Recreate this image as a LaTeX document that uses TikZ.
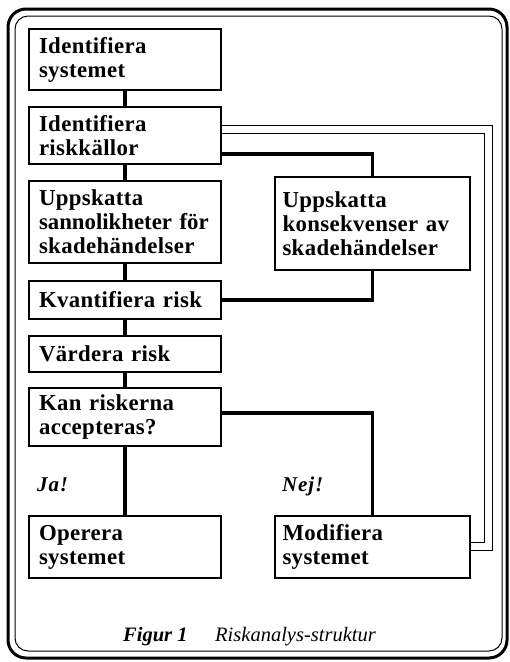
\documentclass[tikz,border=0pt]{standalone}
\usepackage{fontspec}
\setmainfont{Liberation Serif}
\newcommand\bxfont{\bfseries\fontsize{22.8}{24}\selectfont\addfontfeature{LetterSpace=1.6}\spaceskip 0.4em plus 0.2em\relax}
\begin{document}
\begin{tikzpicture}[x=1pt,y=-1pt,
  lbox/.style={draw, line width=1.3pt, inner sep=0pt, minimum width=192pt, text width=172pt, align=left, font=\bxfont},
  rbox/.style={draw, line width=1.3pt, inner sep=0pt, minimum width=195pt, text width=180pt, align=left, font=\bxfont},
  conn/.style={line width=3.5pt},
  dbl/.style={double, line width=1pt, double distance=7pt},
  lab/.style={anchor=base west, inner sep=0pt, font=\bfseries\itshape\fontsize{21}{22}\selectfont\addfontfeature{LetterSpace=4}},
  captxt/.style={anchor=base west, inner sep=0pt, font=\itshape\fontsize{20.5}{22}\selectfont}]
\useasboundingbox (0,0) rectangle (510,662);
% frame
\draw[line width=3pt, rounded corners=18pt] (8,9) rectangle (507,658);
\draw[line width=1pt, rounded corners=13pt] (15,16) rectangle (502,651);
% boxes
\node[lbox, minimum height=61pt] (b1) at (125,59.5) {Identifiera\\systemet};
\node[lbox, minimum height=57pt] (b2) at (125,135.5) {Identifiera\\riskkällor};
\node[lbox, minimum height=82pt] (b3) at (125,222) {Uppskatta\\{\addfontfeature{LetterSpace=0}\makebox[173pt][s]{sannolikheter för}}\\skadehändelser};
\node[rbox, minimum height=93pt] (b4) at (372.5,223.5) {Uppskatta\\\makebox[173pt][s]{konsekvenser av}\\skadehändelser};
\node[lbox, minimum height=38pt] (b5) at (125,300) {Kvantifiera risk};
\node[lbox, minimum height=36pt] (b6) at (125,354) {Värdera risk};
\node[lbox, minimum height=58pt] (b7) at (125,417) {Kan riskerna\\accepteras?};
\node[lbox, minimum height=62pt] (b8) at (125,547) {Operera\\systemet};
\node[rbox, minimum height=62pt] (b9) at (372.5,547) {Modifiera\\systemet};
% connectors
\draw[conn] (b1) -- (b2);
\draw[conn] (b2) -- (b3);
\draw[conn] (b3) -- (b5);
\draw[conn] (b5) -- (b6);
\draw[conn] (b6) -- (b7);
\draw[conn] (b7) -- (b8);
\draw[conn] ([yshift=-18.5pt]b2.east) -| (b4.north);
\draw[conn] (b4.south) |- (b5.east);
\draw[conn] ([yshift=4pt]b7.east) -| (b9.north);
\draw[dbl] ([yshift=6.5pt]b2.east) -- (488.5,129) -- (488.5,546.5) -- ([yshift=0.5pt]b9.east);
% labels
\node[lab] (ja) at (37,491) {Ja!};
\node[lab] (nej) at (282,491) {Nej!};
\node[captxt, font=\bfseries\itshape\fontsize{20.5}{22}\selectfont] (fig) at (123,641) {Figur 1};
\node[captxt] (title) at (215,641) {Riskanalys-struktur};
\end{tikzpicture}
\end{document}
